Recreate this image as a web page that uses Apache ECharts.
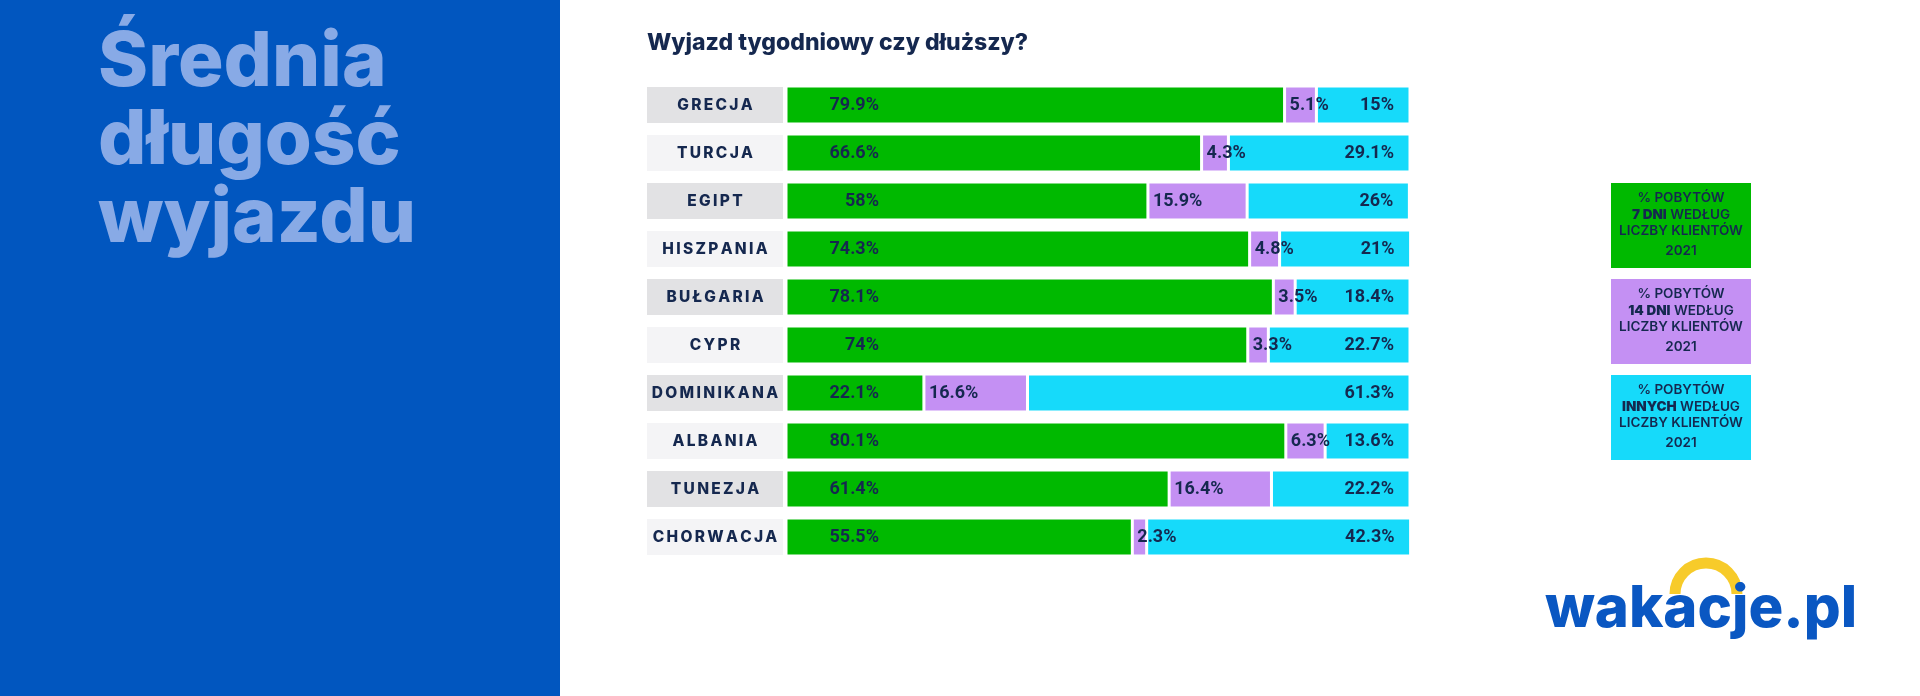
<!DOCTYPE html>
<html>
<head>
<meta charset="utf-8">
<script src="https://cdn.jsdelivr.net/npm/echarts@6/dist/echarts.min.js"></script>
<style>
  html, body { margin: 0; padding: 0; background: #fff; }
  #main { width: 1920px; height: 696px; }
</style>
</head>
<body>
<div id="main"></div>
<script>
// dane z wykresu
var categories = ['GRECJA', 'TURCJA', 'EGIPT', 'HISZPANIA', 'BUŁGARIA', 'CYPR', 'DOMINIKANA', 'ALBANIA', 'TUNEZJA', 'CHORWACJA'];
var stay7 = [79.9, 66.6, 58, 74.3, 78.1, 74, 22.1, 80.1, 61.4, 55.5];
var stay14 = [5.1, 4.3, 15.9, 4.8, 3.5, 3.3, 16.6, 6.3, 16.4, 2.3];
var stayOther = [15, 29.1, 26, 21, 18.4, 22.7, 61.3, 13.6, 22.2, 42.3];
var legendBold = ['7 DNI', '14 DNI', 'INNYCH'];

var navy = '#15284f';
var colors = ['#00b900', '#c490f3', '#16dafa'];
var font = 'Inter, "Noto Sans", sans-serif';

var chart = echarts.init(document.getElementById('main'));

function pct(p) { return p.value + '%'; }

// etykiety krajów z odstępami między literami
function spaced(s) { return s.split('').join('\u2009'); }

var labelStyle = { color: navy, fontFamily: 'Roboto, sans-serif', fontWeight: 'bold', fontSize: 18 };

// legenda jako prostokąty z tekstem
var legendGraphics = [];
var legendTop = [183, 279, 375];
for (var i = 0; i < 3; i++) {
    legendGraphics.push({
        type: 'rect',
        shape: { x: 1611, y: legendTop[i], width: 140, height: 85 },
        style: { fill: colors[i] }
    });
    legendGraphics.push({
        type: 'text',
        x: 1681,
        y: legendTop[i] + 43,
        style: {
            text: '% POBYTÓW\n{b|' + legendBold[i] + '} WEDŁUG\nLICZBY KLIENTÓW\n{y|2021}',
            align: 'center',
            verticalAlign: 'middle',
            fill: navy,
            font: '600 13.5px ' + font,
            lineHeight: 16.5,
            rich: {
                b: { fontFamily: font, fontWeight: 900, fontSize: 13.5, fill: navy, lineHeight: 16.5 },
                y: { fontFamily: font, fontWeight: 600, fontSize: 13.5, fill: navy, lineHeight: 23 }
            }
        }
    });
}

var option = {
    backgroundColor: '#fff',
    animation: false,
    title: [{
        text: 'Wyjazd tygodniowy czy dłuższy?',
        left: 642,
        top: 27,
        textStyle: { color: navy, fontFamily: font, fontWeight: 800, fontSize: 23 }
    }, {
        text: 'Średnia\ndługość\nwyjazdu',
        left: 93,
        top: 19,
        textStyle: { color: '#88aae6', fontFamily: font, fontWeight: 800, fontSize: 76, lineHeight: 78 }
    }],
    graphic: [{
        type: 'rect',
        z: -10,
        shape: { x: 0, y: 0, width: 560, height: 696 },
        style: { fill: '#0156bf' }
    }].concat(legendGraphics).concat([{
        type: 'arc',
        shape: { cx: 1706, cy: 594, r: 31, startAngle: Math.PI, endAngle: 2 * Math.PI },
        style: { stroke: '#f7cb2a', lineWidth: 11, fill: 'none' }
    }, {
        type: 'text',
        x: 1545,
        y: 610,
        style: {
            text: 'wakacje.pl',
            fill: '#0a57c2',
            font: '800 58px ' + font,
            verticalAlign: 'middle'
        }
    }]),
    grid: { left: 786, width: 624, top: 81, height: 480 },
    xAxis: { type: 'value', min: 0, max: 100, show: false },
    yAxis: {
        type: 'category',
        inverse: true,
        data: categories,
        axisLine: { show: false },
        axisTick: { show: false },
        axisLabel: {
            margin: 3,
            formatter: function (v, idx) {
                return (idx % 2 === 0 ? '{d|' : '{l|') + spaced(v) + '}';
            },
            rich: {
                d: { backgroundColor: '#e2e2e4', width: 136, height: 36, lineHeight: 36, align: 'center',
                     color: navy, fontFamily: font, fontWeight: 800, fontSize: 15.5 },
                l: { backgroundColor: '#f4f4f6', width: 136, height: 36, lineHeight: 36, align: 'center',
                     color: navy, fontFamily: font, fontWeight: 800, fontSize: 15.5 }
            }
        }
    },
    series: [{
        name: '7 dni',
        type: 'bar',
        stack: 'all',
        barWidth: 38,
        data: stay7,
        itemStyle: { color: colors[0], borderColor: '#fff', borderWidth: 1.5 },
        label: Object.assign({ show: true, position: [93, '50%'], align: 'right', verticalAlign: 'middle', formatter: pct }, labelStyle)
    }, {
        name: '14 dni',
        type: 'bar',
        stack: 'all',
        z: 4,
        data: stay14,
        itemStyle: { color: colors[1], borderColor: '#fff', borderWidth: 1.5 },
        label: Object.assign({ show: true, position: 'insideLeft', distance: 5, formatter: pct }, labelStyle)
    }, {
        name: 'inne',
        type: 'bar',
        stack: 'all',
        data: stayOther,
        itemStyle: { color: colors[2], borderColor: '#fff', borderWidth: 1.5 },
        label: Object.assign({ show: true, position: 'insideRight', distance: 16, formatter: pct }, labelStyle)
    }]
};

chart.setOption(option);
</script>
</body>
</html>
